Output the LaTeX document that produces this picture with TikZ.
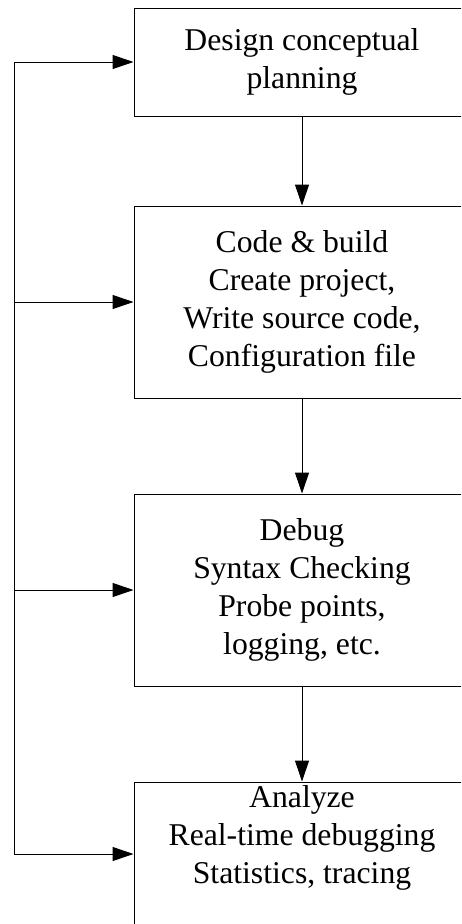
\documentclass[tikz,border=0pt]{standalone}
\usepackage{fontspec}
\setmainfont{Liberation Serif}
\usetikzlibrary{arrows.meta}
\begin{document}
\begin{tikzpicture}[x=1pt,y=-1pt,
  stage/.style={draw, line width=1pt, minimum width=336pt, minimum height=#1, inner sep=0pt},
  stagetext/.style={font=\fontsize{31.7}{38}\selectfont, align=center, inner sep=0pt},
  flow/.style={line width=1pt, -{Triangle[length=21pt,width=14pt]}},
  ]
\clip (0,0) rectangle (461,924);
\fill[white] (0,0) rectangle (461,924);

% process stages
\node[stage=108pt] (design) at (302,62) {};
\node[stage=192pt] (code) at (302,302) {};
\node[stage=192pt] (debug) at (302,590) {};
\node[stage=144pt] (analyze) at (302,854) {};

\node[stagetext] (designtext) at (design.center) {Design conceptual\\planning};
\node[stagetext] (codetext) at (code.center) {Code \& build\\Create project,\\Write source code,\\Configuration file};
\node[stagetext] (debugtext) at (debug.center) {Debug\\Syntax Checking\\Probe points,\\logging, etc.};
\node[stagetext, anchor=north] (analyzetext) at (302,785) {Analyze\\Real-time debugging\\Statistics, tracing};

% forward flow
\draw[flow] (design) -- (code);
\draw[flow] (code) -- (debug);
\draw[flow] (debug) -- (analyze);

% feedback bus on the left
\coordinate (bustop) at (14,62);
\coordinate (buscode) at (14,302);
\coordinate (busdebug) at (14,590);
\coordinate (busbottom) at (14,854);
\draw[line width=1pt] (bustop) -- (busbottom);
\draw[flow] (bustop) -- (design.west);
\draw[flow] (buscode) -- (code.west);
\draw[flow] (busdebug) -- (debug.west);
\draw[flow] (busbottom) -- (analyze.west);
\end{tikzpicture}
\end{document}
